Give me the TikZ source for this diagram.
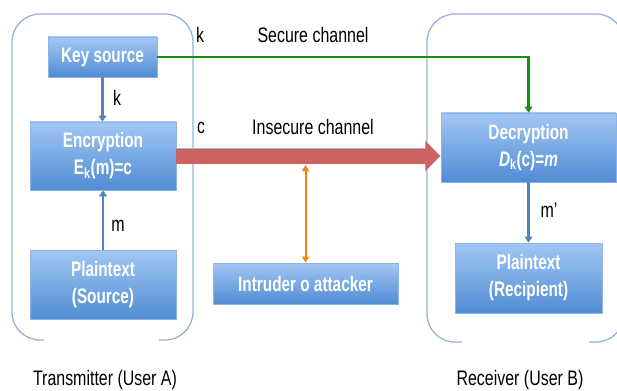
\documentclass[tikz,border=0pt]{standalone}
\usepackage{fontspec}
\setmainfont[FakeStretch=0.76]{Liberation Sans}
\newfontfamily\boxfont[FakeStretch=0.73, UprightFont={* Bold}, ItalicFont={* Bold Italic}]{Liberation Sans}
\usepackage{tikz}
\usetikzlibrary{arrows.meta}

\definecolor{boxtop}{RGB}{162,199,244}
\definecolor{boxbot}{RGB}{80,140,212}
\definecolor{boxline}{RGB}{140,180,228}
\definecolor{frameblue}{RGB}{150,180,216}
\definecolor{linkblue}{RGB}{84,130,190}
\definecolor{chanred}{RGB}{205,98,94}
\definecolor{securegreen}{RGB}{20,145,20}
\definecolor{attackorange}{RGB}{250,130,20}

\tikzset{
    block/.style={draw=boxline, line width=0.8pt, top color=boxtop, bottom color=boxbot,
        text=white, align=center, inner sep=0pt,
        font=\boxfont\fontsize{21}{27}\selectfont},
    lbl/.style={font=\fontsize{21}{24}\selectfont},
    user/.style={draw=frameblue, line width=1.3pt, rounded corners=28pt},
    link/.style={draw=linkblue, line width=2.2pt, -{Triangle[width=8pt,length=6pt]}},
}

\begin{document}
\begin{tikzpicture}[x=1pt,y=-1pt]
    \clip (0,0) rectangle (617,390);
    \fill[white] (0,0) rectangle (617,390);

    % User frames (open at the bottom)
    \draw[user] (44,340) -- (12,340) -- (12,14) -- (193,14) -- (193,340) -- (159,340);
    \draw[user] (462,342) -- (427,342) -- (427,14) -- (624,14) -- (624,342) -- (589,342);

    % Transmitter side
    \node[block, minimum width=109, minimum height=40] (key) at (102.5,57) {Key source};
    \node[block, minimum width=146, minimum height=68] (enc) at (103,156) {Encryption\\E\textsubscript{k}(m)=c};
    \node[block, minimum width=146, minimum height=69] (src) at (103,284.5) {Plaintext\\(Source)};

    % Receiver side
    \node[block, minimum width=175, minimum height=69] (dec) at (528.5,147.5) {Decryption\\\textit{D}\textsubscript{k}(c)=\textit{m}};
    \node[block, minimum width=147, minimum height=70] (rcp) at (528.5,278) {Plaintext\\(Recipient)};

    % Attacker
    \node[block, minimum width=185, minimum height=41] (intr) at (305.5,283.5) {Intruder o attacker};

    % Links inside the frames
    \draw[link] (key.south) -- (key.south |- enc.north);
    \draw[link] (src.north) -- (enc.south);
    \draw[link] (dec.south) -- (rcp.north);
    \node[lbl] (lk) at (117,98) {k};
    \node[lbl] (lm) at (118,226) {m};
    \node[lbl] (lm2) at (549,210) {m'};

    % Secure channel
    \draw[securegreen, line width=2.4pt, -{Triangle[width=8pt,length=6pt]}]
        (key.east) -- (dec.north |- key.east) -- (dec.north);
    \node[lbl] (k2) at (200,35) {k};
    \node[lbl] (sec) at (313,35) {Secure channel};

    % Insecure channel
    \draw[frameblue, line width=16.5pt, -{Triangle[width=30pt,length=15.5pt]}]
        (enc.east) -- (dec.west |- enc.east);
    \draw[chanred, line width=15pt, -{Triangle[width=28pt,length=14pt]}]
        (enc.east) -- ([xshift=-0.8]dec.west |- enc.east);
    \node[lbl] (c2) at (201,128) {c};
    \node[lbl] (ins) at (313,127) {Insecure channel};

    % Attack
    \coordinate (tap) at (305.5,165);
    \draw[attackorange, line width=2pt, {Triangle[width=7pt,length=6pt]}-{Triangle[width=7pt,length=6pt]}]
        (tap) -- (intr.north);

    % Users
    \node[lbl] (ua) at (105,380) {Transmitter (User A)};
    \node[lbl] (ub) at (520,380) {Receiver (User B)};

\end{tikzpicture}
\end{document}
